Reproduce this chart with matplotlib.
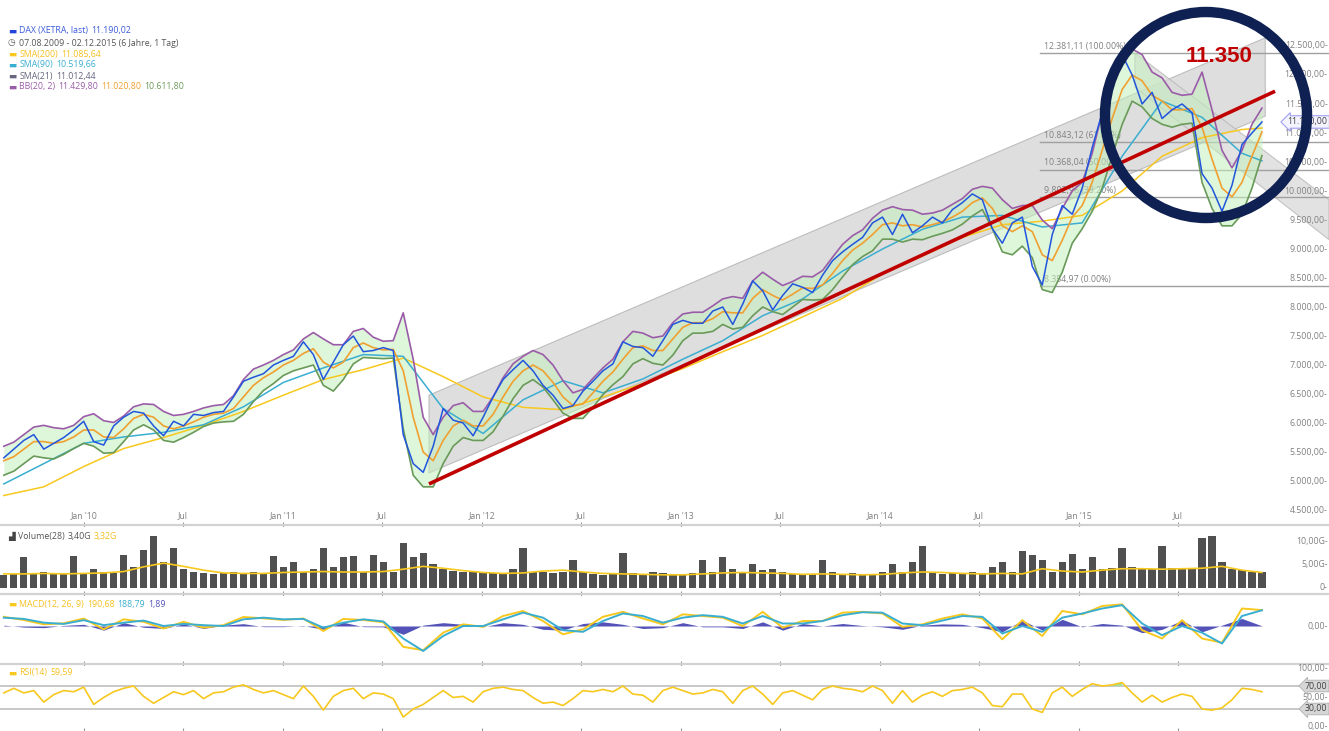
import numpy as np
import pandas as pd
import matplotlib
matplotlib.use('Agg')
import matplotlib.pyplot as plt
from matplotlib.patches import Ellipse
from matplotlib.transforms import blended_transform_factory as btf

plt.rcParams['font.family'] = ['Open Sans', 'DejaVu Sans']

W, H = 1329, 731

# ---- data (semi-monthly samples) ----
start, end = '2009-08-07', '2015-12-02'

price = [5400, 5550, 5700, 5800, 5550, 5650, 5750, 5880, 6030, 5680,
         5620, 5950, 6100, 6200, 6170, 5950, 5780, 6030, 5950, 6150,
         6130, 6180, 6200, 6450, 6720, 6790, 6850, 7000, 7080, 7150,
         7400, 7180, 6750, 7050, 7350, 7500, 7230, 7250, 7300, 7250,
         5800, 5300, 5150, 5600, 6250, 6050, 6000, 5780, 6100, 6450,
         6750, 6920, 7080, 6900, 6650, 6480, 6250, 6300, 6550, 6720,
         6900, 7020, 7400, 7320, 7300, 7150, 7420, 7700, 7770, 7720,
         7720, 7930, 8000, 7700, 8050, 8450, 8280, 7950, 8200, 8400,
         8340, 8250, 8550, 8800, 8950, 9080, 9200, 9450, 9550, 9250,
         9600, 9280, 9400, 9550, 9450, 9680, 9800, 9950, 9850, 9350,
         9100, 9450, 9550, 8700, 8380, 9250, 9750, 9600, 10050, 10750,
         11350, 11800, 12350, 12000, 11500, 11700, 11250, 11400, 11500, 11350,
         10300, 10050, 9650, 10100, 10800, 11000, 11190]

bb_mid = [5350, 5420, 5550, 5680, 5680, 5650, 5680, 5760, 5880, 5880,
          5760, 5750, 5900, 6080, 6150, 6100, 5950, 5900, 5950, 6020,
          6100, 6150, 6170, 6250, 6450, 6650, 6780, 6880, 7000, 7080,
          7200, 7280, 7050, 6950, 7050, 7300, 7380, 7300, 7260, 7270,
          6900, 6100, 5500, 5350, 5700, 5950, 6050, 5950, 5950, 6150,
          6450, 6720, 6900, 7000, 6900, 6700, 6450, 6300, 6330, 6520,
          6720, 6880, 7100, 7300, 7330, 7250, 7250, 7450, 7650, 7730,
          7730, 7800, 7920, 7900, 7900, 8150, 8300, 8200, 8120, 8220,
          8330, 8320, 8380, 8580, 8800, 8980, 9100, 9250, 9420, 9450,
          9400, 9420, 9380, 9420, 9470, 9550, 9650, 9800, 9880, 9700,
          9400, 9300, 9400, 9300, 8900, 8800, 9150, 9550, 9750, 10150,
          10700, 11250, 11750, 12000, 11900, 11650, 11550, 11400, 11400, 11420,
          11100, 10550, 10050, 9900, 10150, 10600, 11020]

bb_half = [250, 250, 250, 250, 280, 270, 220, 200, 230, 280,
           280, 260, 220, 200, 180, 220, 250, 230, 200, 180,
           160, 150, 150, 220, 300, 280, 220, 200, 180, 180,
           250, 280, 400, 400, 300, 280, 250, 180, 150, 150,
           1000, 1000, 600, 450, 400, 350, 300, 250, 250, 300,
           330, 300, 250, 250, 280, 300, 280, 220, 250, 250,
           230, 220, 300, 280, 220, 220, 250, 280, 230, 180,
           180, 220, 220, 280, 250, 300, 300, 280, 250, 220,
           200, 200, 250, 280, 280, 250, 230, 280, 250, 280,
           280, 250, 220, 200, 200, 220, 220, 230, 200, 350,
           450, 400, 350, 450, 600, 550, 550, 450, 400, 500,
           650, 650, 600, 450, 450, 400, 400, 300, 250, 250,
           950, 850, 650, 500, 550, 550, 409]

# every 4th sample (+ last)
sma200 = [4750, 4900, 5250, 5560, 5750, 5960, 6200, 6480, 6750, 6920,
          7120, 6800, 6450, 6270, 6230, 6450, 6680, 6940, 7230, 7510,
          7830, 8150, 8570, 8880, 9200, 9420, 9480, 9580, 10000, 10600,
          10920, 11060, 11085]
sma90 = [4950, 5300, 5650, 5760, 5840, 5970, 6280, 6700, 6950, 7180,
         7150, 6250, 5820, 6400, 6730, 6520, 6760, 7100, 7420, 7850,
         8140, 8620, 9000, 9340, 9550, 9580, 9380, 9450, 10600, 11550,
         11270, 10650, 10520]

volume = [2.8, 3.0, 6.5, 3.2, 3.5, 3.0, 3.2, 6.8, 3.0, 4.0,
          3.5, 3.2, 7.0, 4.5, 8.0, 11.0, 5.5, 8.5, 4.0, 3.3,
          3.2, 3.0, 3.2, 3.5, 3.2, 3.3, 3.0, 6.8, 4.5, 5.5,
          3.5, 4.0, 8.5, 4.5, 6.5, 6.8, 3.5, 7.0, 5.5, 3.5,
          9.5, 6.5, 7.5, 5.0, 4.0, 3.6, 3.4, 3.5, 3.3, 3.2,
          3.0, 4.0, 8.5, 3.5, 3.3, 3.2, 3.4, 6.0, 3.3, 3.0,
          2.8, 3.0, 7.4, 3.2, 3.0, 3.5, 3.2, 2.8, 3.0, 3.2,
          6.0, 3.5, 6.5, 4.0, 3.5, 5.0, 3.8, 4.0, 3.3, 3.0,
          2.8, 3.0, 6.0, 3.5, 3.0, 3.2, 2.8, 3.0, 3.5, 5.0,
          3.5, 5.5, 9.0, 3.5, 3.0, 3.2, 3.0, 3.5, 3.2, 4.5,
          5.5, 3.5, 7.8, 7.0, 6.0, 3.5, 5.5, 7.2, 4.0, 6.5,
          4.0, 4.2, 8.5, 4.5, 4.2, 4.0, 9.0, 4.2, 4.2, 4.0,
          10.6, 11.0, 5.5, 4.0, 3.8, 3.5, 3.4]

rsi = [58, 66, 58, 62, 42, 55, 62, 60, 68, 38,
       50, 60, 66, 70, 52, 40, 50, 60, 55, 62,
       48, 58, 60, 68, 72, 64, 58, 62, 55, 48,
       70, 52, 28, 52, 62, 66, 48, 58, 56, 48,
       16, 30, 38, 50, 62, 50, 52, 42, 60, 66,
       68, 64, 62, 50, 40, 42, 36, 48, 62, 60,
       64, 60, 70, 56, 54, 42, 62, 68, 62, 56,
       58, 64, 60, 40, 62, 70, 56, 38, 58, 62,
       54, 46, 64, 70, 66, 64, 60, 70, 62, 40,
       62, 42, 54, 60, 52, 62, 64, 68, 58, 36,
       34, 56, 56, 30, 24, 58, 68, 52, 64, 74,
       70, 72, 76, 58, 42, 54, 42, 50, 56, 52,
       30, 28, 32, 46, 66, 64, 60]

# every 2nd sample
vol_avg = [3.0, 3.0, 3.1, 3.0, 3.1, 3.2, 3.5, 4.5, 5.3, 4.6,
           3.8, 3.2, 3.1, 3.1, 3.3, 3.4, 3.5, 3.4, 3.4, 3.5,
           4.0, 4.6, 4.2, 3.7, 3.3, 3.1, 3.2, 3.6, 3.8, 3.4,
           3.1, 3.0, 2.9, 2.8, 2.8, 3.0, 3.2, 3.3, 3.2, 3.1,
           2.9, 3.0, 2.9, 2.8, 2.9, 3.2, 3.4, 3.3, 3.1, 3.0,
           3.1, 3.0, 4.1, 3.6, 3.4, 3.8, 4.1, 4.1, 4.0, 4.1,
           4.2, 4.6, 3.8, 3.3]
macd = [110, 72, 20, 32, 90, -40, 80, 50, -30, 50,
        -20, 10, 108, 92, 72, 90, -60, 85, 72, 45,
        -250, -290, -80, 20, -10, 120, 180, 60, -100, -40,
        110, 170, 90, 20, 140, 120, 100, 0, 170, -20,
        60, 60, 160, 170, 150, -10, 20, 90, 140, 90,
        -160, 70, -120, 180, 140, 240, 260, -50, -150, 70,
        -150, -200, 210, 191]
signal = [100, 85, 40, 25, 70, 10, 40, 65, 0, 25,
          10, 0, 80, 100, 80, 85, -20, 40, 80, 55,
          -150, -300, -120, 0, 0, 80, 160, 100, -50, -70,
          60, 150, 120, 40, 100, 130, 110, 30, 120, 30,
          30, 60, 130, 165, 160, 30, 10, 65, 120, 110,
          -90, 0, -70, 100, 150, 210, 250, 30, -110, 0,
          -80, -210, 120, 189]

# drawing annotations (trend line, channels, fibonacci)
trend_dates, trend_vals = ['2011-09-26', '2015-12-26'], [4950, 11720]
chan_dates = ['2011-09-26', '2015-12-08']
chan_upper, chan_lower = [6480, 12640], [5140, 11290]
desc_dates = ['2015-04-13', '2016-04-03']
desc_upper, desc_lower = [12380, 9850], [11790, 9160]
fib_start = '2014-10-20'
fib_levels = [12381.11, 10843.12, 10368.04, 9892.96, 8354.97]
fib_labels = ['12.381,11 (100.00%)', '10.843,12 (61.80%)', '10.368,04 (50.00%)',
              '9.892,96 (38.20%)', '8.354,97 (0.00%)']

price_ticks = list(range(4500, 13000, 500))
tick_dates = pd.to_datetime(['2010-01-01', '2010-07-01', '2011-01-01', '2011-07-01',
                             '2012-01-01', '2012-07-01', '2013-01-01', '2013-07-01',
                             '2014-01-01', '2014-07-01', '2015-01-01', '2015-07-01'])
tick_labels = ["Jan '10", 'Jul', "Jan '11", 'Jul', "Jan '12", 'Jul',
               "Jan '13", 'Jul', "Jan '14", 'Jul', "Jan '15", 'Jul']

dates = pd.date_range(start, end, periods=len(price))
d4 = dates[np.r_[0:len(price):4, len(price) - 1]]
d2 = dates[::2]

price = np.array(price, float)
mid = np.array(bb_mid, float)
half = np.array(bb_half, float)
upper, lower = mid + half, mid - half
rsi = np.array(rsi, float)
hist = np.array(macd, float) - np.array(signal, float)

# ---- figure ----
fig = plt.figure(figsize=(W / 100, H / 100), dpi=100)

def rect(top, bottom):
    return [0, 1 - bottom / H, 1, (bottom - top) / H]

ax = fig.add_axes(rect(0, 525))
axv = fig.add_axes(rect(527, 594))
axm = fig.add_axes(rect(596, 664))
axr = fig.add_axes(rect(666, 731))

x0 = pd.Timestamp('2010-01-01') - pd.Timedelta(days=154)
x1 = pd.Timestamp('2010-01-01') + pd.Timedelta(days=2284)
GRAY = '#808080'
FS = 6.3

for a in (ax, axv, axm, axr):
    a.set_xlim(x0, x1)
    for s in ('top', 'left', 'right'):
        a.spines[s].set_visible(False)
    a.spines['bottom'].set_color('#d2d2d2')
    a.spines['bottom'].set_linewidth(1.6)
    a.set_yticks([])
    a.set_xticks(tick_dates)
    a.tick_params(axis='x', direction='inout', length=4, color='#999999', labelbottom=False)
axr.spines['bottom'].set_visible(False)

ax.set_ylim(4242, 13293)
axv.set_ylim(-1.28, 12.98)
axm.set_ylim(-456, 360)
axr.set_ylim(-8.3, 104.8)


def right_labels(a, vals, labels):
    tr = btf(a.transAxes, a.transData)
    for v, s in zip(vals, labels):
        a.text(0.999, v, s, transform=tr, ha='right', va='center', color=GRAY, fontsize=FS)


def fmt(v):
    return '{:,.2f}'.format(v).replace(',', 'X').replace('.', ',').replace('X', '.')

# main panel
ax.fill(pd.to_datetime(chan_dates + chan_dates[::-1]),
        chan_upper + chan_lower[::-1], color='#d9d9d9', alpha=0.85,
        ec='#b5b5b5', lw=0.8, zorder=1)
ax.fill(pd.to_datetime(desc_dates + desc_dates[::-1]),
        desc_upper + desc_lower[::-1], color='#d9d9d9', alpha=0.75,
        ec='#b5b5b5', lw=0.8, zorder=1, clip_on=False)

fs = pd.Timestamp(fib_start)
for v, s in zip(fib_levels, fib_labels):
    ax.plot([fs, x1], [v, v], color='#a0a0a0', lw=1.0, zorder=1.5)
    ax.text(fs + pd.Timedelta(days=8), v + 40, s, color=GRAY, fontsize=FS,
            va='bottom', ha='left', zorder=1.5)

ax.fill_between(dates, lower, upper, color='#c4efbd', alpha=0.55, lw=0, zorder=2)
ax.plot(d4, sma200, color='#f7c81e', lw=1.1, zorder=3)
ax.plot(d4, sma90, color='#3aaed0', lw=1.1, zorder=3)
ax.plot(dates, upper, color='#9a5ca8', lw=1.2, zorder=3)
ax.plot(dates, lower, color='#6a9a5a', lw=1.2, zorder=3)
ax.plot(dates, mid, color='#f0a030', lw=1.2, zorder=3)
ax.plot(dates, price, color='#2255dd', lw=1.1, zorder=4)
ax.plot(pd.to_datetime(trend_dates), trend_vals, color='#c00000', lw=2.6,
        zorder=5, solid_capstyle='butt')

right_labels(ax, price_ticks, [fmt(v) + '-' for v in price_ticks])
ax.text(0.999, price[-1], fmt(price[-1]), transform=btf(ax.transAxes, ax.transData),
        ha='right', va='center', color='#444444', fontsize=FS, zorder=6,
        bbox=dict(boxstyle='larrow,pad=0.2', fc='#f4f4ff', ec='#9f9ff0', lw=0.8))

trx = btf(ax.transData, ax.transAxes)
for d, s in zip(tick_dates, tick_labels):
    ax.text(d, 0.01, s, transform=trx, ha='center', va='bottom', color=GRAY, fontsize=FS)

# volume panel
axv.bar(dates, volume, width=13.5, color='#505050', lw=0, zorder=2)
axv.plot(d2, vol_avg, color='#f7c81e', lw=1.2, zorder=3)
right_labels(axv, [10, 5, 0], ['10,00G-', '5,00G-', '0-'])

# macd panel
axm.fill_between(d2, hist, 0, color='#5252b8', lw=0, zorder=2)
axm.plot(d2, macd, color='#f7c81e', lw=1.4, zorder=3)
axm.plot(d2, signal, color='#3aaed0', lw=1.4, zorder=3)
right_labels(axm, [0], ['0,00-'])

# rsi panel
for lvl in (70, 30):
    axr.axhline(lvl, color='#c8c8c8', lw=1.4, zorder=1)
axr.fill_between(dates, rsi, 70, where=rsi > 70, color='#9fe09a', lw=0, zorder=2)
axr.fill_between(dates, rsi, 30, where=rsi < 30, color='#f0a0a0', lw=0, zorder=2)
axr.plot(dates, rsi, color='#f7c81e', lw=1.2, zorder=3)
right_labels(axr, [100, 50, 0], ['100,00-', '50,00-', '0,00-'])
for lvl in (70, 30):
    axr.text(0.999, lvl, fmt(lvl), transform=btf(axr.transAxes, axr.transData),
             ha='right', va='center', color='#404040', fontsize=FS, zorder=6,
             bbox=dict(boxstyle='larrow,pad=0.15', fc='#d6d6d6', ec='#b0b0b0', lw=0.6))

# legend rows
renderer = fig.canvas.get_renderer()


def row(x, y, parts):
    for s, c in parts:
        t = fig.text(x / W, 1 - y / H, s, color=c, fontsize=FS, va='center', ha='left')
        x += t.get_window_extent(renderer).width + 3

row(8, 31, [('▬', '#2244dd'), ('DAX (XETRA, last)', '#3b5bdb'), ('11.190,02', '#3b5bdb')])
row(8, 43, [('◷', '#555555'), ('07.08.2009 - 02.12.2015 (6 Jahre, 1 Tag)', '#555555')])
row(8, 54, [('▬', '#f7c81e'), ('SMA(200)', '#f5c020'), ('11.085,64', '#f5c020')])
row(8, 65, [('▬', '#3aaed0'), ('SMA(90)', '#3aaed0'), ('10.519,66', '#3aaed0')])
row(8, 76, [('▬', '#66667f'), ('SMA(21)', '#66667f'), ('11.012,44', '#66667f')])
row(8, 87, [('▬', '#9a5ca8'), ('BB(20, 2)', '#9a5ca8'), ('11.429,80', '#9a5ca8'),
            ('11.020,80', '#f0a030'), ('10.611,80', '#6a9a5a')])
row(8, 536, [('▟', '#444444'), ('Volume(28)', '#555555'), ('3,40G', '#555555'),
             ('3,32G', '#f5c020')])
row(8, 604, [('▬', '#f7c81e'), ('MACD(12, 26, 9)', '#f5c020'), ('190,68', '#f5c020'),
             ('188,79', '#3aaed0'), ('1,89', '#5252b8')])
row(8, 673, [('▬', '#f7c81e'), ('RSI(14)', '#f5c020'), ('59,59', '#f5c020')])

# highlight circle and target
fig.patches.append(Ellipse((1206 / W, 1 - 115 / H), 2 * 101 / W, 2 * 103 / H,
                           transform=fig.transFigure, fill=False, ec='#0f2152', lw=7.5))
fig.text(1219 / W, 1 - 57 / H, '11.350', color='#c00000', fontsize=16,
         fontweight='bold', ha='center', va='center', family='Liberation Sans')

fig.savefig('out.png', dpi=100)
